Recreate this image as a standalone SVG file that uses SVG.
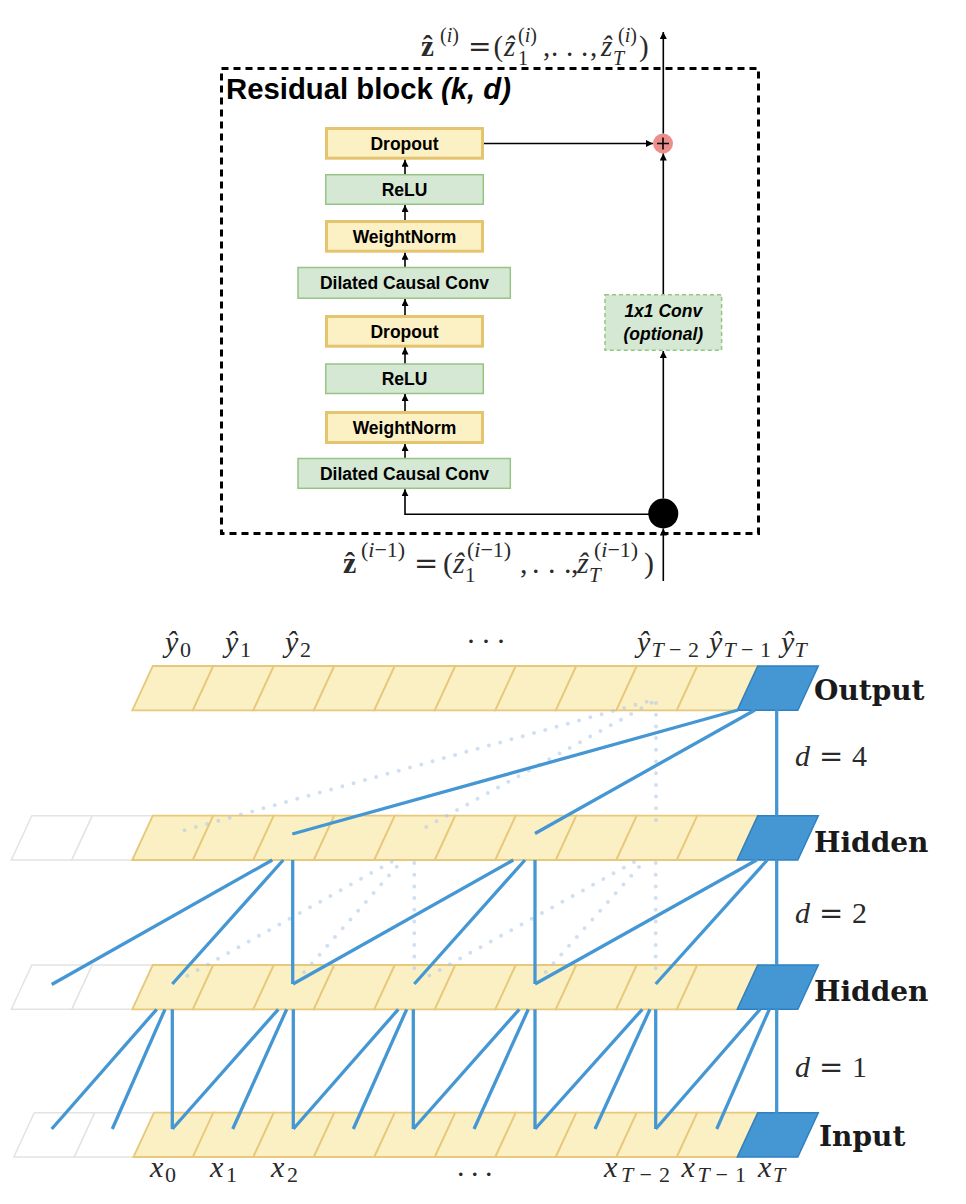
<svg xmlns="http://www.w3.org/2000/svg" width="966" height="1204" viewBox="0 0 966 1204">
<defs>
<style>
.by{fill:#fcf1c5;stroke:#e5c46f;stroke-width:3}
.bg{fill:#d5e8d4;stroke:#97c485;stroke-width:1.5}
.bgd{fill:#d5e8d4;stroke:#97c485;stroke-width:1.5;stroke-dasharray:4 3}
.lbl{font-family:"Liberation Sans",Arial,sans-serif;font-weight:bold;font-size:17.5px;text-anchor:middle;fill:#000}
.arr{stroke:#000;stroke-width:1.6;fill:none;marker-end:url(#ah)}
.cy{fill:#fbf0c3;stroke:#e8c87a;stroke-width:1.8}
.cb{fill:#4597d3;stroke:#2f80c2;stroke-width:1.5}
.cg{fill:#fff;stroke:#e3e3e3;stroke-width:1.5}
.sl{stroke:#4597d3;stroke-width:3.3;fill:none}
.dl{stroke:#a9c7ea;stroke-opacity:0.55;stroke-width:4;stroke-linecap:round;stroke-dasharray:0 11.7;fill:none}
.m{font-family:"Liberation Serif","DejaVu Serif",serif;fill:#2a2a2a}
.i{font-style:italic}
.b{font-weight:bold;font-style:normal}
.eq{font-family:"DejaVu Serif","Liberation Serif",serif;font-style:normal}
.rl{font-family:"DejaVu Serif","Liberation Serif",serif;font-weight:bold;font-size:28px;fill:#1a1a1a}
</style>
<marker id="ah" viewBox="0 0 10 10" refX="10" refY="5" markerWidth="7.5" markerHeight="7" markerUnits="userSpaceOnUse" orient="auto"><path d="M0,0 L10,5 L0,10 z" fill="#000"/></marker>
<polygon id="cell" points="0,44.3 20.5,0 81,0 60.5,44.3"/>
</defs>
<rect width="966" height="1204" fill="#fff"/>

<!-- ===== Residual block ===== -->
<g id="residual-block">
<rect x="221.5" y="68.5" width="537" height="465" fill="none" stroke="#000" stroke-width="3" stroke-dasharray="7 5"/>
<text x="226" y="98.5" font-family="'Liberation Sans',Arial,sans-serif" font-weight="bold" font-size="29.3" fill="#000">Residual block <tspan font-style="italic">(k, d)</tspan></text>
</g>

<g id="dropout-1"><rect class="by" x="326.5" y="128.5" width="156" height="29.7"/><text class="lbl" x="404.5" y="149.6">Dropout</text></g>
<g id="relu-1"><rect class="bg" x="325.75" y="174.75" width="157.5" height="29.5"/><text class="lbl" x="404.5" y="195.8">ReLU</text></g>
<g id="weightnorm-1"><rect class="by" x="326.5" y="221.5" width="156" height="29.7"/><text class="lbl" x="404.5" y="242.6">WeightNorm</text></g>
<g id="dilated-conv-1"><rect class="bg" x="298" y="267.5" width="212.3" height="30.7"/><text class="lbl" x="404.5" y="289.3">Dilated Causal Conv</text></g>
<g id="dropout-2"><rect class="by" x="326.5" y="316.5" width="156" height="29.7"/><text class="lbl" x="404.5" y="337.6">Dropout</text></g>
<g id="relu-2"><rect class="bg" x="325.75" y="364" width="157.5" height="29.5"/><text class="lbl" x="404.5" y="385">ReLU</text></g>
<g id="weightnorm-2"><rect class="by" x="326.5" y="412.5" width="156" height="30"/><text class="lbl" x="404.5" y="433.8">WeightNorm</text></g>
<g id="dilated-conv-2"><rect class="bg" x="298" y="458.5" width="212.3" height="29.8"/><text class="lbl" x="404.5" y="479.8">Dilated Causal Conv</text></g>
<g id="conv1x1"><rect class="bgd" x="605" y="294.7" width="116.6" height="55.6"/><text class="lbl" font-style="italic"><tspan x="663.3" y="317.3">1x1 Conv</tspan><tspan x="663.3" y="340">(optional)</tspan></text></g>
<g id="add"><circle cx="663" cy="143.5" r="10" fill="#ec8e8b"/><path d="M657,143.5 H669 M663,137.5 V149.5" stroke="#000" stroke-width="1.6"/></g>
<g id="split"><circle cx="663.3" cy="513.5" r="15" fill="#000"/></g>

<g id="block-connectors">
<line class="arr" x1="405" y1="174" x2="405" y2="159.8"/>
<line class="arr" x1="405" y1="220" x2="405" y2="205"/>
<line class="arr" x1="405" y1="266.7" x2="405" y2="252.8"/>
<line class="arr" x1="405" y1="315" x2="405" y2="299"/>
<line class="arr" x1="405" y1="363.3" x2="405" y2="347.5"/>
<line class="arr" x1="405" y1="411" x2="405" y2="394"/>
<line class="arr" x1="405" y1="457.7" x2="405" y2="444"/>
<path class="arr" d="M663.3,514.3 H405 V489.2"/>
<line class="arr" x1="663.3" y1="498.5" x2="663.3" y2="351"/>
<line class="arr" x1="663.3" y1="294" x2="663.3" y2="153.5"/>
<line class="arr" x1="484" y1="143.5" x2="653" y2="143.5"/>
<line class="arr" x1="663.3" y1="133.5" x2="663.3" y2="32"/>
<line class="arr" x1="663.3" y1="581" x2="663.3" y2="528.5"/>
</g>

<g id="block-labels">
<text class="m" font-size="29"><tspan class="b" x="421" y="56">ẑ</tspan><tspan x="440" y="42" font-size="20">(<tspan class="i">i</tspan>)</tspan><tspan class="eq" x="468" y="56" font-size="28">=</tspan><tspan x="493.5" y="56">(</tspan><tspan class="i" x="504" y="56">ẑ</tspan><tspan x="518" y="42" font-size="20">(<tspan class="i">i</tspan>)</tspan><tspan x="518" y="65" font-size="20">1</tspan><tspan x="543" y="56">,</tspan><tspan x="551 566 581" y="56">...</tspan><tspan x="590" y="56">,</tspan><tspan class="i" x="601" y="56">ẑ</tspan><tspan class="i" x="613" y="65" font-size="20">T</tspan><tspan x="618" y="42" font-size="20">(<tspan class="i">i</tspan>)</tspan><tspan x="639" y="56">)</tspan></text>

<text class="m" font-size="30"><tspan class="b" x="343" y="572.5">ẑ</tspan><tspan x="361" y="557" font-size="22">(<tspan class="i">i</tspan>−1)</tspan><tspan class="eq" x="414" y="572.5" font-size="29">=</tspan><tspan x="443" y="572.5">(</tspan><tspan class="i" x="453" y="572.5">ẑ</tspan><tspan x="465" y="582" font-size="21">1</tspan><tspan x="467" y="557" font-size="22">(<tspan class="i">i</tspan>−1)</tspan><tspan x="520" y="572.5">,</tspan><tspan x="532 548 564" y="572.5">...</tspan><tspan x="571" y="572.5">,</tspan><tspan class="i" x="577" y="572.5">ẑ</tspan><tspan class="i" x="589" y="582" font-size="21">T</tspan><tspan x="594" y="557" font-size="22">(<tspan class="i">i</tspan>−1)</tspan><tspan x="644" y="572.5">)</tspan></text>
</g>

<!-- ===== TCN layers ===== -->
<g id="layer-output">
<use href="#cell" class="cy" x="132.3" y="666"/><use href="#cell" class="cy" x="192.8" y="666"/><use href="#cell" class="cy" x="253.3" y="666"/><use href="#cell" class="cy" x="313.8" y="666"/><use href="#cell" class="cy" x="374.3" y="666"/><use href="#cell" class="cy" x="434.8" y="666"/><use href="#cell" class="cy" x="495.3" y="666"/><use href="#cell" class="cy" x="555.8" y="666"/><use href="#cell" class="cy" x="616.3" y="666"/><use href="#cell" class="cy" x="676.8" y="666"/><use href="#cell" class="cb" x="737.3" y="666"/>
<text class="rl" x="814" y="700">Output</text>
</g>
<g id="layer-hidden-1">
<use href="#cell" class="cg" x="11.3" y="815.7"/><use href="#cell" class="cg" x="71.8" y="815.7"/>
<use href="#cell" class="cy" x="132.3" y="815.7"/><use href="#cell" class="cy" x="192.8" y="815.7"/><use href="#cell" class="cy" x="253.3" y="815.7"/><use href="#cell" class="cy" x="313.8" y="815.7"/><use href="#cell" class="cy" x="374.3" y="815.7"/><use href="#cell" class="cy" x="434.8" y="815.7"/><use href="#cell" class="cy" x="495.3" y="815.7"/><use href="#cell" class="cy" x="555.8" y="815.7"/><use href="#cell" class="cy" x="616.3" y="815.7"/><use href="#cell" class="cy" x="676.8" y="815.7"/><use href="#cell" class="cb" x="737.3" y="815.7"/>
<text class="rl" x="814" y="851.7">Hidden</text>
</g>
<g id="layer-hidden-2">
<use href="#cell" class="cg" x="11.3" y="965"/><use href="#cell" class="cg" x="71.8" y="965"/>
<use href="#cell" class="cy" x="132.3" y="965"/><use href="#cell" class="cy" x="192.8" y="965"/><use href="#cell" class="cy" x="253.3" y="965"/><use href="#cell" class="cy" x="313.8" y="965"/><use href="#cell" class="cy" x="374.3" y="965"/><use href="#cell" class="cy" x="434.8" y="965"/><use href="#cell" class="cy" x="495.3" y="965"/><use href="#cell" class="cy" x="555.8" y="965"/><use href="#cell" class="cy" x="616.3" y="965"/><use href="#cell" class="cy" x="676.8" y="965"/><use href="#cell" class="cb" x="737.3" y="965"/>
<text class="rl" x="814" y="1001">Hidden</text>
</g>
<g id="layer-input">
<use href="#cell" class="cg" x="13.8" y="1112.7"/><use href="#cell" class="cg" x="74.3" y="1112.7"/>
<use href="#cell" class="cy" x="133.5" y="1112.7"/><use href="#cell" class="cy" x="192.8" y="1112.7"/><use href="#cell" class="cy" x="253.3" y="1112.7"/><use href="#cell" class="cy" x="313.8" y="1112.7"/><use href="#cell" class="cy" x="374.3" y="1112.7"/><use href="#cell" class="cy" x="434.8" y="1112.7"/><use href="#cell" class="cy" x="495.3" y="1112.7"/><use href="#cell" class="cy" x="555.8" y="1112.7"/><use href="#cell" class="cy" x="616.3" y="1112.7"/><use href="#cell" class="cy" x="676.8" y="1112.7"/><use href="#cell" class="cb" x="737.3" y="1112.7"/>
<text class="rl" x="819" y="1146">Input</text>
</g>

<g id="tcn-connectors">
<!-- dotted (inactive) -->
<line class="dl" x1="646.7" y1="701.7" x2="181.7" y2="831"/>
<line class="dl" x1="651.7" y1="702.7" x2="425" y2="827.7"/>
<line class="dl" x1="656" y1="703" x2="656" y2="825"/>
<line class="dl" x1="391.7" y1="861.7" x2="181.7" y2="979"/>
<line class="dl" x1="396.7" y1="866.7" x2="301.7" y2="975"/>
<line class="dl" x1="414.3" y1="863" x2="414.3" y2="975"/>
<line class="dl" x1="634" y1="862" x2="425" y2="978"/>
<line class="dl" x1="639" y1="867" x2="543" y2="975"/>
<line class="dl" x1="655.7" y1="863" x2="655.7" y2="975"/>
<!-- d = 4 -->
<line class="sl" x1="738" y1="710" x2="292.3" y2="834"/>
<line class="sl" x1="755" y1="710" x2="535" y2="833.5"/>
<line class="sl" x1="776.7" y1="710" x2="776.7" y2="815.7"/>
<!-- d = 2 -->
<line class="sl" x1="272.3" y1="860" x2="51.7" y2="984.5"/>
<line class="sl" x1="283.3" y1="860" x2="172.3" y2="984"/>
<line class="sl" x1="292.7" y1="860" x2="292.7" y2="984"/>
<line class="sl" x1="513.3" y1="860" x2="293" y2="984"/>
<line class="sl" x1="525" y1="860" x2="414.3" y2="984"/>
<line class="sl" x1="535" y1="860" x2="535" y2="984"/>
<line class="sl" x1="756.7" y1="860" x2="535" y2="984"/>
<line class="sl" x1="767.3" y1="860" x2="655.7" y2="984"/>
<line class="sl" x1="776.7" y1="860" x2="776.7" y2="965"/>
<!-- d = 1 -->
<line class="sl" x1="156.7" y1="1009.3" x2="51.7" y2="1129"/>
<line class="sl" x1="165" y1="1009.3" x2="112.3" y2="1129"/>
<line class="sl" x1="172.3" y1="1009.3" x2="172.3" y2="1129"/>
<line class="sl" x1="278.3" y1="1009.3" x2="172.3" y2="1129"/>
<line class="sl" x1="286.7" y1="1009.3" x2="232.7" y2="1129"/>
<line class="sl" x1="293.3" y1="1009.3" x2="293.3" y2="1129"/>
<line class="sl" x1="398.3" y1="1009.3" x2="293.3" y2="1129"/>
<line class="sl" x1="406.7" y1="1009.3" x2="353.3" y2="1129"/>
<line class="sl" x1="413.3" y1="1009.3" x2="413.3" y2="1129"/>
<line class="sl" x1="519.3" y1="1009.3" x2="413.3" y2="1129"/>
<line class="sl" x1="528.3" y1="1009.3" x2="474" y2="1129"/>
<line class="sl" x1="535" y1="1009.3" x2="535" y2="1129"/>
<line class="sl" x1="642.3" y1="1009.3" x2="535" y2="1129"/>
<line class="sl" x1="650" y1="1009.3" x2="595" y2="1129"/>
<line class="sl" x1="655.7" y1="1009.3" x2="655.7" y2="1129"/>
<line class="sl" x1="760" y1="1009.3" x2="655.7" y2="1129"/>
<line class="sl" x1="769.3" y1="1009.3" x2="716.7" y2="1129"/>
<line class="sl" x1="776.7" y1="1009.3" x2="776.7" y2="1112.7"/>
</g>

<g id="tcn-labels">
<text class="m" font-size="30"><tspan class="i" x="165" y="652">ŷ</tspan><tspan x="180" y="657" font-size="22">0</tspan></text>
<text class="m" font-size="30"><tspan class="i" x="225" y="652">ŷ</tspan><tspan x="240" y="657" font-size="22">1</tspan></text>
<text class="m" font-size="30"><tspan class="i" x="285" y="652">ŷ</tspan><tspan x="300" y="657" font-size="22">2</tspan></text>
<text class="m" x="466 481 496" y="651" font-size="30">···</text>
<text class="m" font-size="30"><tspan class="i" x="637" y="652">ŷ</tspan><tspan class="i" x="651.5" y="657" font-size="22">T</tspan><tspan x="669 688" y="657" font-size="22">−2</tspan></text>
<text class="m" font-size="30"><tspan class="i" x="709" y="652">ŷ</tspan><tspan class="i" x="723.5" y="657" font-size="22">T</tspan><tspan x="741 760" y="657" font-size="22">−1</tspan></text>
<text class="m" font-size="30"><tspan class="i" x="781" y="652">ŷ</tspan><tspan class="i" x="794.5" y="657" font-size="22">T</tspan></text>

<text class="m" font-size="30"><tspan class="i" x="795" y="766">d</tspan><tspan class="eq" x="819" y="766" font-size="29">=</tspan><tspan x="852" y="766">4</tspan></text>
<text class="m" font-size="30"><tspan class="i" x="795" y="923.3">d</tspan><tspan class="eq" x="819" y="923.3" font-size="29">=</tspan><tspan x="852" y="923.3">2</tspan></text>
<text class="m" font-size="30"><tspan class="i" x="795" y="1076.7">d</tspan><tspan class="eq" x="819" y="1076.7" font-size="29">=</tspan><tspan x="852" y="1076.7">1</tspan></text>

<text class="m" font-size="30"><tspan class="i" x="150" y="1176.7">x</tspan><tspan x="165" y="1181.7" font-size="22">0</tspan></text>
<text class="m" font-size="30"><tspan class="i" x="210" y="1176.7">x</tspan><tspan x="226" y="1181.7" font-size="22">1</tspan></text>
<text class="m" font-size="30"><tspan class="i" x="271" y="1176.7">x</tspan><tspan x="287" y="1181.7" font-size="22">2</tspan></text>
<text class="m" x="457 471 485" y="1176" font-size="30">...</text>
<text class="m" font-size="30"><tspan class="i" x="604" y="1176.7">x</tspan><tspan class="i" x="621" y="1181.7" font-size="22">T</tspan><tspan x="639.5 659" y="1181.7" font-size="22">−2</tspan></text>
<text class="m" font-size="30"><tspan class="i" x="681.5" y="1176.7">x</tspan><tspan class="i" x="697.5" y="1181.7" font-size="22">T</tspan><tspan x="715.5 735" y="1181.7" font-size="22">−1</tspan></text>
<text class="m" font-size="30"><tspan class="i" x="758" y="1176.7">x</tspan><tspan class="i" x="773" y="1181.7" font-size="22">T</tspan></text>
</g>
</svg>
